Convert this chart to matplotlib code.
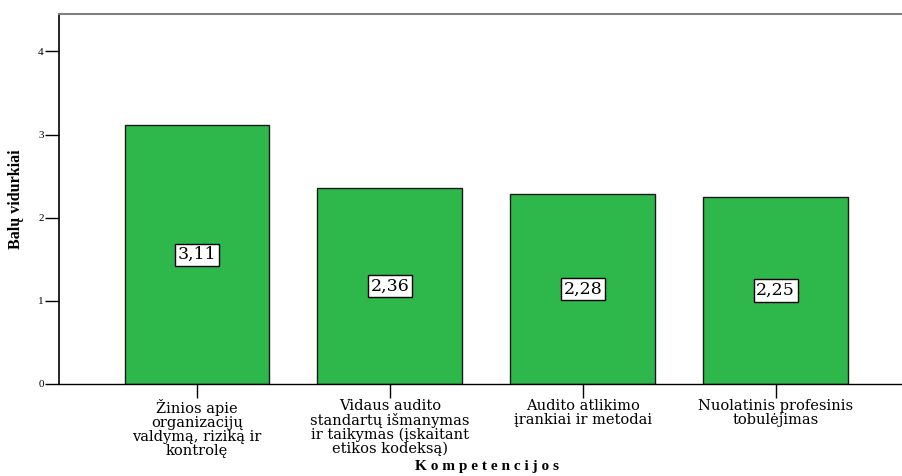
import matplotlib.pyplot as plt

categories = ['Žinios apie\norganizacijų\nvaldymą, riziką ir\nkontrolę',
              'Vidaus audito\nstandartų išmanymas\nir taikymas (įskaitant\netikos kodeksą)',
              'Audito atlikimo\nįrankiai ir metodai',
              'Nuolatinis profesinis\ntobulėjimas']
means = [3.11, 2.36, 2.28, 2.25]
labels = ['3,11', '2,36', '2,28', '2,25']
yticks = [0, 1, 2, 3, 4]

plt.rcParams['font.family'] = ['Liberation Serif', 'DejaVu Serif']
wide = ['DejaVu Serif']

fig = plt.figure(figsize=(9.03, 4.76), dpi=100)
ax = fig.add_axes([0.0653, 0.1933, 0.9347, 0.7773])

x = range(len(means))
ax.bar(x, means, width=0.75, color='#2EB84B', edgecolor='#1a1a1a', linewidth=1.0, zorder=2)

for xi, m, lab in zip(x, means, labels):
    ax.text(xi, m / 2, lab, ha='center', va='center', fontsize=12.5, family=wide,
            bbox=dict(boxstyle='square,pad=0.15', fc='white', ec='black', lw=1.0), zorder=3)

ax.set_xlim(-0.715, 3.66)
ax.set_ylim(0, 4.45)
ax.set_yticks(yticks)
ax.set_yticklabels([str(t) for t in yticks], fontsize=8)
ax.set_xticks(list(x))
ax.set_xticklabels(categories, fontsize=10.5, family=wide, linespacing=0.98)
ax.tick_params(axis='x', length=10, width=1, pad=1)
ax.tick_params(axis='y', length=10, width=1, pad=1)

ax.spines['right'].set_visible(False)
ax.spines['top'].set_color('#808080')
ax.spines['top'].set_linewidth(1.5)
ax.spines['left'].set_linewidth(1.2)
ax.spines['bottom'].set_linewidth(1.0)

ax.set_ylabel('Balų vidurkiai', fontsize=11.5, fontweight='bold', labelpad=10)
ax.set_xlabel('K o m p e t e n c i j o s', fontsize=11, fontweight='bold')
ax.xaxis.label.set_va('baseline')
ax.xaxis.set_label_coords(0.507, -0.232)

fig.savefig('out.png', dpi=100)
